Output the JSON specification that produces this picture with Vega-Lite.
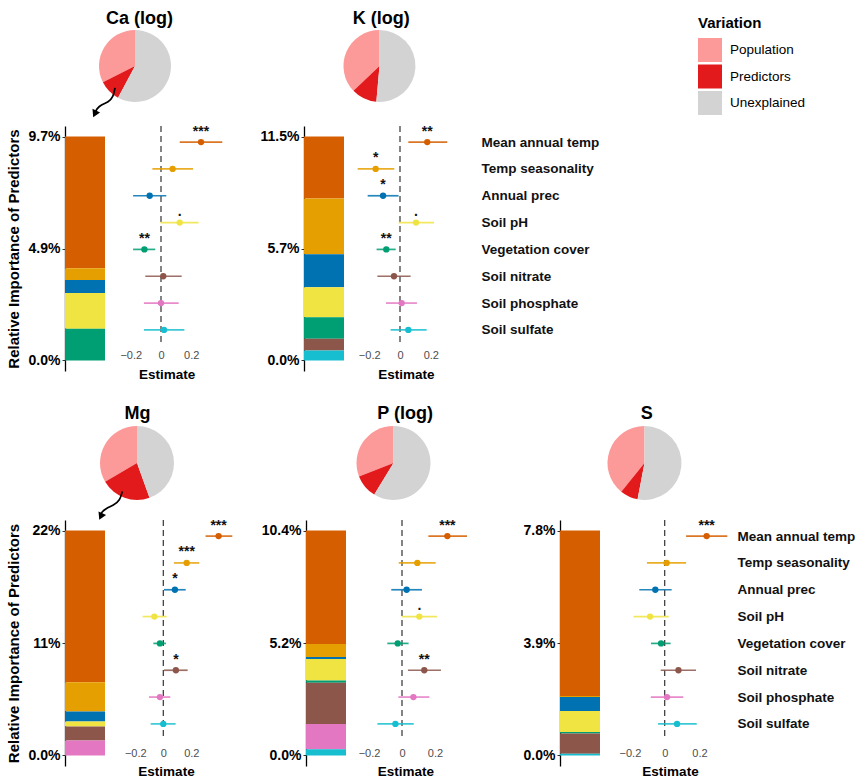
{
  "$schema": "https://vega.github.io/schema/vega-lite/v6.json",
  "padding": {"left": 6, "top": 10, "right": 0, "bottom": 0},
  "config": {
    "view": {"stroke": null},
    "font": "Liberation Sans",
    "axis": {"grid": false}
  },
  "datasets": {
    "pred": [
      {"el":"Ca","predictor":"Mean annual temp","k":1,"imp":5.72,"est":0.265,"lo":0.124,"hi":0.406,"sig":"***"},
      {"el":"Ca","predictor":"Temp seasonality","k":2,"imp":0.51,"est":0.077,"lo":-0.057,"hi":0.212,"sig":""},
      {"el":"Ca","predictor":"Annual prec","k":3,"imp":0.56,"est":-0.075,"lo":-0.185,"hi":0.035,"sig":""},
      {"el":"Ca","predictor":"Soil pH","k":4,"imp":1.55,"est":0.124,"lo":-0.004,"hi":0.249,"sig":"."},
      {"el":"Ca","predictor":"Vegetation cover","k":5,"imp":1.38,"est":-0.110,"lo":-0.185,"hi":-0.038,"sig":"**"},
      {"el":"Ca","predictor":"Soil nitrate","k":6,"imp":0,"est":0.015,"lo":-0.104,"hi":0.137,"sig":""},
      {"el":"Ca","predictor":"Soil phosphate","k":7,"imp":0,"est":0.000,"lo":-0.113,"hi":0.117,"sig":""},
      {"el":"Ca","predictor":"Soil sulfate","k":8,"imp":0,"est":0.020,"lo":-0.113,"hi":0.155,"sig":""},
      {"el":"K","predictor":"Mean annual temp","k":1,"imp":3.17,"est":0.177,"lo":0.054,"hi":0.307,"sig":"**"},
      {"el":"K","predictor":"Temp seasonality","k":2,"imp":2.86,"est":-0.158,"lo":-0.275,"hi":-0.037,"sig":"*"},
      {"el":"K","predictor":"Annual prec","k":3,"imp":1.68,"est":-0.110,"lo":-0.210,"hi":-0.009,"sig":"*"},
      {"el":"K","predictor":"Soil pH","k":4,"imp":1.54,"est":0.104,"lo":-0.009,"hi":0.221,"sig":"."},
      {"el":"K","predictor":"Vegetation cover","k":5,"imp":1.10,"est":-0.089,"lo":-0.152,"hi":-0.028,"sig":"**"},
      {"el":"K","predictor":"Soil nitrate","k":6,"imp":0.60,"est":-0.039,"lo":-0.147,"hi":0.069,"sig":""},
      {"el":"K","predictor":"Soil phosphate","k":7,"imp":0,"est":0.011,"lo":-0.091,"hi":0.110,"sig":""},
      {"el":"K","predictor":"Soil sulfate","k":8,"imp":0.51,"est":0.054,"lo":-0.061,"hi":0.173,"sig":""},
      {"el":"Mg","predictor":"Mean annual temp","k":1,"imp":14.85,"est":0.395,"lo":0.302,"hi":0.493,"sig":"***"},
      {"el":"Mg","predictor":"Temp seasonality","k":2,"imp":2.84,"est":0.167,"lo":0.076,"hi":0.257,"sig":"***"},
      {"el":"Mg","predictor":"Annual prec","k":3,"imp":0.98,"est":0.083,"lo":0.005,"hi":0.160,"sig":"*"},
      {"el":"Mg","predictor":"Soil pH","k":4,"imp":0.49,"est":-0.064,"lo":-0.148,"hi":0.024,"sig":""},
      {"el":"Mg","predictor":"Vegetation cover","k":5,"imp":0,"est":-0.024,"lo":-0.071,"hi":0.019,"sig":""},
      {"el":"Mg","predictor":"Soil nitrate","k":6,"imp":1.37,"est":0.090,"lo":0.005,"hi":0.174,"sig":"*"},
      {"el":"Mg","predictor":"Soil phosphate","k":7,"imp":1.47,"est":-0.024,"lo":-0.102,"hi":0.050,"sig":""},
      {"el":"Mg","predictor":"Soil sulfate","k":8,"imp":0,"est":0.000,"lo":-0.090,"hi":0.088,"sig":""},
      {"el":"P","predictor":"Mean annual temp","k":1,"imp":5.25,"est":0.275,"lo":0.160,"hi":0.394,"sig":"***"},
      {"el":"P","predictor":"Temp seasonality","k":2,"imp":0.60,"est":0.093,"lo":-0.020,"hi":0.204,"sig":""},
      {"el":"P","predictor":"Annual prec","k":3,"imp":0.09,"est":0.028,"lo":-0.065,"hi":0.121,"sig":""},
      {"el":"P","predictor":"Soil pH","k":4,"imp":0.99,"est":0.105,"lo":-0.002,"hi":0.212,"sig":"."},
      {"el":"P","predictor":"Vegetation cover","k":5,"imp":0.11,"est":-0.026,"lo":-0.089,"hi":0.040,"sig":""},
      {"el":"P","predictor":"Soil nitrate","k":6,"imp":1.91,"est":0.135,"lo":0.036,"hi":0.236,"sig":"**"},
      {"el":"P","predictor":"Soil phosphate","k":7,"imp":1.16,"est":0.069,"lo":-0.022,"hi":0.166,"sig":""},
      {"el":"P","predictor":"Soil sulfate","k":8,"imp":0.29,"est":-0.040,"lo":-0.149,"hi":0.071,"sig":""},
      {"el":"S","predictor":"Mean annual temp","k":1,"imp":5.74,"est":0.241,"lo":0.123,"hi":0.360,"sig":"***"},
      {"el":"S","predictor":"Temp seasonality","k":2,"imp":0.03,"est":0.011,"lo":-0.102,"hi":0.123,"sig":""},
      {"el":"S","predictor":"Annual prec","k":3,"imp":0.49,"est":-0.054,"lo":-0.146,"hi":0.040,"sig":""},
      {"el":"S","predictor":"Soil pH","k":4,"imp":0.73,"est":-0.084,"lo":-0.180,"hi":0.023,"sig":""},
      {"el":"S","predictor":"Vegetation cover","k":5,"imp":0.05,"est":-0.021,"lo":-0.079,"hi":0.034,"sig":""},
      {"el":"S","predictor":"Soil nitrate","k":6,"imp":0.70,"est":0.079,"lo":-0.023,"hi":0.180,"sig":""},
      {"el":"S","predictor":"Soil phosphate","k":7,"imp":0,"est":0.013,"lo":-0.080,"hi":0.107,"sig":""},
      {"el":"S","predictor":"Soil sulfate","k":8,"imp":0.06,"est":0.071,"lo":-0.038,"hi":0.184,"sig":""}
    ],
    "pie": [
      {"el":"Ca","part":"Population","pct":32.48},{"el":"Ca","part":"Predictors","pct":9.72},{"el":"Ca","part":"Unexplained","pct":57.8},
      {"el":"K","part":"Population","pct":37.14},{"el":"K","part":"Predictors","pct":11.46},{"el":"K","part":"Unexplained","pct":51.4},
      {"el":"Mg","part":"Population","pct":33.5},{"el":"Mg","part":"Predictors","pct":22.0},{"el":"Mg","part":"Unexplained","pct":44.5},
      {"el":"P","part":"Population","pct":30.9},{"el":"P","part":"Predictors","pct":10.4},{"el":"P","part":"Unexplained","pct":58.7},
      {"el":"S","part":"Population","pct":39.2},{"el":"S","part":"Predictors","pct":7.8},{"el":"S","part":"Unexplained","pct":53.0}
    ],
    "arrow": [
      {"el":"Ca","s":1,"ax":-0.556,"ay":-0.606},{"el":"Ca","s":2,"ax":-0.603,"ay":-0.867},{"el":"Ca","s":3,"ax":-0.742,"ay":-1.006},
      {"el":"Ca","s":4,"ax":-0.925,"ay":-1.069},{"el":"Ca","s":5,"ax":-1.064,"ay":-1.189},{"el":"Ca","s":6,"ax":-1.10,"ay":-1.285},
      {"el":"Mg","s":1,"ax":-0.397,"ay":-0.768},{"el":"Mg","s":2,"ax":-0.459,"ay":-1.01},{"el":"Mg","s":3,"ax":-0.64,"ay":-1.146},
      {"el":"Mg","s":4,"ax":-0.819,"ay":-1.216},{"el":"Mg","s":5,"ax":-0.954,"ay":-1.324},{"el":"Mg","s":6,"ax":-0.975,"ay":-1.40}
    ],
    "head": [
      {"el":"Ca","ax":-1.118,"ay":-1.331},
      {"el":"Mg","ax":-0.979,"ay":-1.445}
    ]
  },
  "spacing": 24,
  "vconcat": [
    {
      "spacing": 6,
      "vconcat": [
        {
          "spacing": 0,
          "bounds": "flush",
          "hconcat": [
            {
              "width": 140, "height": 72,
              "title": {"text": "Ca (log)", "fontSize": 18, "fontWeight": "bold", "color": "#000", "offset": 2, "dx": 4.5, "anchor": "middle", "frame": "group"},
              "layer": [
                {
                  "data": {"name": "pie"}, "transform": [{"filter": "datum.el === 'Ca'"}],
                  "mark": {"type": "arc"},
                  "encoding": {
                    "theta": {"field": "pct", "type": "quantitative", "stack": true},
                    "color": {"field": "part", "type": "nominal",
                      "scale": {"domain": ["Population","Predictors","Unexplained"], "range": ["#FB9A99","#E31A1C","#D3D3D3"]},
                      "legend": {"orient": "none", "legendX": 633, "legendY": -14, "title": "Variation", "titleFontSize": 15, "titleFontWeight": "bold", "titleColor": "#000", "titlePadding": 7, "symbolType": "square", "symbolSize": 576, "symbolStrokeWidth": 0, "symbolOpacity": 1, "labelFontSize": 13.5, "labelFontWeight": "normal", "labelColor": "#000", "labelOffset": 8, "rowPadding": 2.5, "padding": 0}},
                    "order": {"field": "part", "sort": "descending"}
                  }
                },
                {
                  "data": {"name": "arrow"}, "transform": [{"filter": "datum.el === 'Ca'"}],
                  "mark": {"type": "line", "interpolate": "basis", "color": "#000", "strokeWidth": 1.7},
                  "encoding": {
                    "x": {"field": "ax", "type": "quantitative", "scale": {"domain": [-1.944, 1.944], "nice": false, "zero": false}, "axis": null},
                    "y": {"field": "ay", "type": "quantitative", "scale": {"domain": [-1, 1], "nice": false, "zero": false}, "axis": null},
                    "order": {"field": "s"}
                  }
                },
                {
                  "data": {"name": "head"}, "transform": [{"filter": "datum.el === 'Ca'"}],
                  "mark": {"type": "point", "shape": "triangle-down", "filled": true, "color": "#000", "size": 70, "angle": 25, "opacity": 1},
                  "encoding": {
                    "x": {"field": "ax", "type": "quantitative", "axis": null},
                    "y": {"field": "ay", "type": "quantitative", "axis": null}
                  }
                }
              ]
            },
            {
              "width": 349, "height": 72,
              "title": {"text": "K (log)", "fontSize": 18, "fontWeight": "bold", "color": "#000", "offset": 2, "dx": 1.7, "anchor": "middle", "frame": "group"},
              "data": {"name": "pie"}, "transform": [{"filter": "datum.el === 'K'"}],
              "mark": {"type": "arc"},
              "encoding": {
                "theta": {"field": "pct", "type": "quantitative", "stack": true},
                "color": {"field": "part", "type": "nominal"},
                "order": {"field": "part", "sort": "descending"}
              }
            }
          ]
        },
        {
          "spacing": 10,
          "bounds": "flush",
          "hconcat": [
            {
              "width": 40, "height": 245,
              "data": {"name": "pred"}, "transform": [{"filter": "datum.el === 'Ca'"}],
              "mark": {"type": "bar"},
              "encoding": {
                "x": {"field": "el", "type": "nominal", "scale": {"paddingInner": 0, "paddingOuter": 0}, "axis": null},
                "y": {"field": "imp", "type": "quantitative", "stack": "zero",
                  "scale": {"domain": [-0.457, 10.177], "nice": false, "zero": false},
                  "axis": {"values": [0, 4.86, 9.72], "labelExpr": "format(datum.value, '.1f') + '%'", "title": "Relative Importance of Predictors", "titleFontSize": 15, "titleFontWeight": "bold", "titleColor": "#000", "titlePadding": 6.5, "labelFontSize": 14, "labelFontWeight": "bold", "labelColor": "#000", "labelPadding": 2, "tickSize": 3, "tickColor": "#333", "domainColor": "#000", "domainWidth": 1.3, "labelFlush": false, "labelOverlap": false}},
                "fill": {"field": "predictor", "type": "nominal",
                  "scale": {"domain": ["Mean annual temp","Temp seasonality","Annual prec","Soil pH","Vegetation cover","Soil nitrate","Soil phosphate","Soil sulfate"], "range": ["#D55E00","#E69F00","#0072B2","#F0E442","#009E73","#8C564B","#E377C2","#17BECF"]},
                  "legend": null},
                "order": {"field": "k", "sort": "descending"}
              }
            },
            {
              "width": 179, "height": 220,
              "encoding": {
                "x": {"field": "est", "type": "quantitative", "scale": {"domain": [-0.3046, 0.8808], "nice": false, "zero": false},
                  "axis": {"values": [-0.2, 0, 0.2], "format": "~g", "domain": false, "ticks": false, "tickSize": 0, "labelFontSize": 11, "labelColor": "#4d4d4d", "labelPadding": 3, "labelFlush": false, "title": "Estimate", "titleFontSize": 13.5, "titleFontWeight": "bold", "titleColor": "#000", "titlePadding": 7, "titleX": 51.7}}
              },
              "layer": [
                {
                  "data": {"name": "pred"}, "transform": [{"filter": "datum.el === 'Ca' && datum.k === 1"}],
                  "mark": {"type": "rule", "strokeDash": [6, 4], "color": "#333333", "strokeWidth": 1.2},
                  "encoding": {"x": {"datum": 0, "type": "quantitative"}}
                },
                {
                  "data": {"name": "pred"}, "transform": [{"filter": "datum.el === 'Ca'"}],
                  "mark": {"type": "rule", "strokeWidth": 1.7, "strokeOpacity": 0.85},
                  "encoding": {
                    "x": {"field": "lo", "type": "quantitative"}, "x2": {"field": "hi"},
                    "y": {"field": "predictor", "type": "nominal", "sort": ["Mean annual temp","Temp seasonality","Annual prec","Soil pH","Vegetation cover","Soil nitrate","Soil phosphate","Soil sulfate"], "scale": {"type": "point", "padding": 0.6}, "axis": null},
                    "stroke": {"field": "predictor", "type": "nominal", "scale": {"domain": ["Mean annual temp","Temp seasonality","Annual prec","Soil pH","Vegetation cover","Soil nitrate","Soil phosphate","Soil sulfate"], "range": ["#D55E00","#E69F00","#0072B2","#F0E442","#009E73","#8C564B","#E377C2","#17BECF"]}, "legend": null}
                  }
                },
                {
                  "data": {"name": "pred"}, "transform": [{"filter": "datum.el === 'Ca'"}],
                  "mark": {"type": "point", "filled": true, "size": 40, "opacity": 1},
                  "encoding": {
                    "y": {"field": "predictor", "type": "nominal", "sort": ["Mean annual temp","Temp seasonality","Annual prec","Soil pH","Vegetation cover","Soil nitrate","Soil phosphate","Soil sulfate"], "scale": {"type": "point", "padding": 0.6}, "axis": null},
                    "fill": {"field": "predictor", "type": "nominal", "legend": null}
                  }
                },
                {
                  "data": {"name": "pred"}, "transform": [{"filter": "datum.el === 'Ca'"}],
                  "mark": {"type": "text", "dy": -6.5, "baseline": "alphabetic", "fontSize": 14, "fontWeight": "bold", "color": "#111111"},
                  "encoding": {
                    "y": {"field": "predictor", "type": "nominal", "sort": ["Mean annual temp","Temp seasonality","Annual prec","Soil pH","Vegetation cover","Soil nitrate","Soil phosphate","Soil sulfate"], "scale": {"type": "point", "padding": 0.6}, "axis": null},
                    "text": {"field": "sig"}
                  }
                }
              ]
            },
            {
              "width": 40, "height": 245,
              "data": {"name": "pred"}, "transform": [{"filter": "datum.el === 'K'"}],
              "mark": {"type": "bar"},
              "encoding": {
                "x": {"field": "el", "type": "nominal", "scale": {"paddingInner": 0, "paddingOuter": 0}, "axis": null},
                "y": {"field": "imp", "type": "quantitative", "stack": "zero",
                  "scale": {"domain": [-0.539, 11.999], "nice": false, "zero": false},
                  "axis": {"values": [0, 5.73, 11.46], "labelExpr": "format(datum.value, '.1f') + '%'", "title": null, "labelFontSize": 14, "labelFontWeight": "bold", "labelColor": "#000", "labelPadding": 2, "tickSize": 3, "tickColor": "#333", "domainColor": "#000", "domainWidth": 1.3, "labelFlush": false, "labelOverlap": false}},
                "fill": {"field": "predictor", "type": "nominal", "legend": null},
                "order": {"field": "k", "sort": "descending"}
              }
            },
            {
              "width": 98, "height": 220,
              "encoding": {
                "x": {"field": "est", "type": "quantitative", "scale": {"domain": [-0.2987, 0.3377], "nice": false, "zero": false},
                  "axis": {"values": [-0.2, 0, 0.2], "format": "~g", "domain": false, "ticks": false, "tickSize": 0, "labelFontSize": 11, "labelColor": "#4d4d4d", "labelPadding": 3, "labelFlush": false, "title": "Estimate", "titleFontSize": 13.5, "titleFontWeight": "bold", "titleColor": "#000", "titlePadding": 7, "titleX": 51.8}}
              },
              "layer": [
                {
                  "data": {"name": "pred"}, "transform": [{"filter": "datum.el === 'K' && datum.k === 1"}],
                  "mark": {"type": "rule", "strokeDash": [6, 4], "color": "#333333", "strokeWidth": 1.2},
                  "encoding": {"x": {"datum": 0, "type": "quantitative"}}
                },
                {
                  "data": {"name": "pred"}, "transform": [{"filter": "datum.el === 'K'"}],
                  "mark": {"type": "rule", "strokeWidth": 1.7, "strokeOpacity": 0.85},
                  "encoding": {
                    "x": {"field": "lo", "type": "quantitative"}, "x2": {"field": "hi"},
                    "y": {"field": "predictor", "type": "nominal", "sort": ["Mean annual temp","Temp seasonality","Annual prec","Soil pH","Vegetation cover","Soil nitrate","Soil phosphate","Soil sulfate"], "scale": {"type": "point", "padding": 0.6},
                      "axis": {"orient": "right", "domain": false, "ticks": false, "tickSize": 0, "labelPadding": 29, "labelFontSize": 13.5, "labelFontWeight": "bold", "labelColor": "#111", "labelLimit": 0, "title": null}},
                    "stroke": {"field": "predictor", "type": "nominal", "legend": null}
                  }
                },
                {
                  "data": {"name": "pred"}, "transform": [{"filter": "datum.el === 'K'"}],
                  "mark": {"type": "point", "filled": true, "size": 40, "opacity": 1},
                  "encoding": {
                    "y": {"field": "predictor", "type": "nominal", "sort": ["Mean annual temp","Temp seasonality","Annual prec","Soil pH","Vegetation cover","Soil nitrate","Soil phosphate","Soil sulfate"], "scale": {"type": "point", "padding": 0.6},
                      "axis": {"orient": "right", "domain": false, "ticks": false, "tickSize": 0, "labelPadding": 29, "labelFontSize": 13.5, "labelFontWeight": "bold", "labelColor": "#111", "labelLimit": 0, "title": null}},
                    "fill": {"field": "predictor", "type": "nominal", "legend": null}
                  }
                },
                {
                  "data": {"name": "pred"}, "transform": [{"filter": "datum.el === 'K'"}],
                  "mark": {"type": "text", "dy": -6.5, "baseline": "alphabetic", "fontSize": 14, "fontWeight": "bold", "color": "#111111"},
                  "encoding": {
                    "y": {"field": "predictor", "type": "nominal", "sort": ["Mean annual temp","Temp seasonality","Annual prec","Soil pH","Vegetation cover","Soil nitrate","Soil phosphate","Soil sulfate"], "scale": {"type": "point", "padding": 0.6},
                      "axis": {"orient": "right", "domain": false, "ticks": false, "tickSize": 0, "labelPadding": 29, "labelFontSize": 13.5, "labelFontWeight": "bold", "labelColor": "#111", "labelLimit": 0, "title": null}},
                    "text": {"field": "sig"}
                  }
                }
              ]
            }
          ]
        }
      ]
    },
    {
      "spacing": -10.5,
      "vconcat": [
        {
          "spacing": 0,
          "bounds": "flush",
          "hconcat": [
            {
              "width": 144, "height": 74,
              "title": {"text": "Mg", "fontSize": 18, "fontWeight": "bold", "color": "#000", "offset": 3, "dx": 0.5, "anchor": "middle", "frame": "group"},
              "layer": [
                {
                  "data": {"name": "pie"}, "transform": [{"filter": "datum.el === 'Mg'"}],
                  "mark": {"type": "arc"},
                  "encoding": {
                    "theta": {"field": "pct", "type": "quantitative", "stack": true},
                    "color": {"field": "part", "type": "nominal"},
                    "order": {"field": "part", "sort": "descending"}
                  }
                },
                {
                  "data": {"name": "arrow"}, "transform": [{"filter": "datum.el === 'Mg'"}],
                  "mark": {"type": "line", "interpolate": "basis", "color": "#000", "strokeWidth": 1.7},
                  "encoding": {
                    "x": {"field": "ax", "type": "quantitative", "scale": {"domain": [-1.946, 1.946], "nice": false, "zero": false}, "axis": null},
                    "y": {"field": "ay", "type": "quantitative", "scale": {"domain": [-1, 1], "nice": false, "zero": false}, "axis": null},
                    "order": {"field": "s"}
                  }
                },
                {
                  "data": {"name": "head"}, "transform": [{"filter": "datum.el === 'Mg'"}],
                  "mark": {"type": "point", "shape": "triangle-down", "filled": true, "color": "#000", "size": 70, "angle": 25, "opacity": 1},
                  "encoding": {
                    "x": {"field": "ax", "type": "quantitative", "axis": null},
                    "y": {"field": "ay", "type": "quantitative", "axis": null}
                  }
                }
              ]
            },
            {
              "width": 369, "height": 74,
              "title": {"text": "P (log)", "fontSize": 18, "fontWeight": "bold", "color": "#000", "offset": 3, "dx": 11.7, "anchor": "middle", "frame": "group"},
              "data": {"name": "pie"}, "transform": [{"filter": "datum.el === 'P'"}],
              "mark": {"type": "arc"},
              "encoding": {
                "theta": {"field": "pct", "type": "quantitative", "stack": true},
                "color": {"field": "part", "type": "nominal"},
                "order": {"field": "part", "sort": "descending"}
              }
            },
            {
              "width": 133, "height": 74,
              "title": {"text": "S", "fontSize": 18, "fontWeight": "bold", "color": "#000", "offset": 3, "dx": 2.2, "anchor": "middle", "frame": "group"},
              "data": {"name": "pie"}, "transform": [{"filter": "datum.el === 'S'"}],
              "mark": {"type": "arc"},
              "encoding": {
                "theta": {"field": "pct", "type": "quantitative", "stack": true},
                "color": {"field": "part", "type": "nominal"},
                "order": {"field": "part", "sort": "descending"}
              }
            }
          ]
        },
        {
          "spacing": 10,
          "bounds": "flush",
          "hconcat": [
            {
              "width": 40, "height": 246,
              "data": {"name": "pred"}, "transform": [{"filter": "datum.el === 'Mg'"}],
              "mark": {"type": "bar"},
              "encoding": {
                "x": {"field": "el", "type": "nominal", "scale": {"paddingInner": 0, "paddingOuter": 0}, "axis": null},
                "y": {"field": "imp", "type": "quantitative", "stack": "zero",
                  "scale": {"domain": [-1.034, 23.034], "nice": false, "zero": false},
                  "axis": {"values": [0, 11, 22], "labelExpr": "datum.value === 0 ? '0.0%' : format(datum.value, '.2r') + '%'", "title": "Relative Importance of Predictors", "titleFontSize": 15, "titleFontWeight": "bold", "titleColor": "#000", "titlePadding": 7, "labelFontSize": 14, "labelFontWeight": "bold", "labelColor": "#000", "labelPadding": 2, "tickSize": 3, "tickColor": "#333", "domainColor": "#000", "domainWidth": 1.3, "labelFlush": false, "labelOverlap": false}},
                "fill": {"field": "predictor", "type": "nominal", "legend": null},
                "order": {"field": "k", "sort": "descending"}
              }
            },
            {
              "width": 181, "height": 220,
              "encoding": {
                "x": {"field": "est", "type": "quantitative", "scale": {"domain": [-0.345, 0.948], "nice": false, "zero": false},
                  "axis": {"values": [-0.2, 0, 0.2], "format": "~g", "domain": false, "ticks": false, "tickSize": 0, "labelFontSize": 11, "labelColor": "#4d4d4d", "labelPadding": 7.5, "labelFlush": false, "title": "Estimate", "titleFontSize": 13.5, "titleFontWeight": "bold", "titleColor": "#000", "titlePadding": 6, "titleX": 51}}
              },
              "layer": [
                {
                  "data": {"name": "pred"}, "transform": [{"filter": "datum.el === 'Mg' && datum.k === 1"}],
                  "mark": {"type": "rule", "strokeDash": [6, 4], "color": "#333333", "strokeWidth": 1.2},
                  "encoding": {"x": {"datum": 0, "type": "quantitative"}}
                },
                {
                  "data": {"name": "pred"}, "transform": [{"filter": "datum.el === 'Mg'"}],
                  "mark": {"type": "rule", "strokeWidth": 1.7, "strokeOpacity": 0.85},
                  "encoding": {
                    "x": {"field": "lo", "type": "quantitative"}, "x2": {"field": "hi"},
                    "y": {"field": "predictor", "type": "nominal", "sort": ["Mean annual temp","Temp seasonality","Annual prec","Soil pH","Vegetation cover","Soil nitrate","Soil phosphate","Soil sulfate"], "scale": {"type": "point", "padding": 0.6}, "axis": null},
                    "stroke": {"field": "predictor", "type": "nominal", "legend": null}
                  }
                },
                {
                  "data": {"name": "pred"}, "transform": [{"filter": "datum.el === 'Mg'"}],
                  "mark": {"type": "point", "filled": true, "size": 40, "opacity": 1},
                  "encoding": {
                    "y": {"field": "predictor", "type": "nominal", "sort": ["Mean annual temp","Temp seasonality","Annual prec","Soil pH","Vegetation cover","Soil nitrate","Soil phosphate","Soil sulfate"], "scale": {"type": "point", "padding": 0.6}, "axis": null},
                    "fill": {"field": "predictor", "type": "nominal", "legend": null}
                  }
                },
                {
                  "data": {"name": "pred"}, "transform": [{"filter": "datum.el === 'Mg'"}],
                  "mark": {"type": "text", "dy": -6.5, "baseline": "alphabetic", "fontSize": 14, "fontWeight": "bold", "color": "#111111"},
                  "encoding": {
                    "y": {"field": "predictor", "type": "nominal", "sort": ["Mean annual temp","Temp seasonality","Annual prec","Soil pH","Vegetation cover","Soil nitrate","Soil phosphate","Soil sulfate"], "scale": {"type": "point", "padding": 0.6}, "axis": null},
                    "text": {"field": "sig"}
                  }
                }
              ]
            },
            {
              "width": 40, "height": 246,
              "data": {"name": "pred"}, "transform": [{"filter": "datum.el === 'P'"}],
              "mark": {"type": "bar"},
              "encoding": {
                "x": {"field": "el", "type": "nominal", "scale": {"paddingInner": 0, "paddingOuter": 0}, "axis": null},
                "y": {"field": "imp", "type": "quantitative", "stack": "zero",
                  "scale": {"domain": [-0.489, 10.889], "nice": false, "zero": false},
                  "axis": {"values": [0, 5.2, 10.4], "labelExpr": "format(datum.value, '.1f') + '%'", "title": null, "labelFontSize": 14, "labelFontWeight": "bold", "labelColor": "#000", "labelPadding": 2, "tickSize": 3, "tickColor": "#333", "domainColor": "#000", "domainWidth": 1.3, "labelFlush": false, "labelOverlap": false}},
                "fill": {"field": "predictor", "type": "nominal", "legend": null},
                "order": {"field": "k", "sort": "descending"}
              }
            },
            {
              "width": 194, "height": 220,
              "encoding": {
                "x": {"field": "est", "type": "quantitative", "scale": {"domain": [-0.2788, 0.8970], "nice": false, "zero": false},
                  "axis": {"values": [-0.2, 0, 0.2], "format": "~g", "domain": false, "ticks": false, "tickSize": 0, "labelFontSize": 11, "labelColor": "#4d4d4d", "labelPadding": 7.5, "labelFlush": false, "title": "Estimate", "titleFontSize": 13.5, "titleFontWeight": "bold", "titleColor": "#000", "titlePadding": 6, "titleX": 49.3}}
              },
              "layer": [
                {
                  "data": {"name": "pred"}, "transform": [{"filter": "datum.el === 'P' && datum.k === 1"}],
                  "mark": {"type": "rule", "strokeDash": [6, 4], "color": "#333333", "strokeWidth": 1.2},
                  "encoding": {"x": {"datum": 0, "type": "quantitative"}}
                },
                {
                  "data": {"name": "pred"}, "transform": [{"filter": "datum.el === 'P'"}],
                  "mark": {"type": "rule", "strokeWidth": 1.7, "strokeOpacity": 0.85},
                  "encoding": {
                    "x": {"field": "lo", "type": "quantitative"}, "x2": {"field": "hi"},
                    "y": {"field": "predictor", "type": "nominal", "sort": ["Mean annual temp","Temp seasonality","Annual prec","Soil pH","Vegetation cover","Soil nitrate","Soil phosphate","Soil sulfate"], "scale": {"type": "point", "padding": 0.6}, "axis": null},
                    "stroke": {"field": "predictor", "type": "nominal", "legend": null}
                  }
                },
                {
                  "data": {"name": "pred"}, "transform": [{"filter": "datum.el === 'P'"}],
                  "mark": {"type": "point", "filled": true, "size": 40, "opacity": 1},
                  "encoding": {
                    "y": {"field": "predictor", "type": "nominal", "sort": ["Mean annual temp","Temp seasonality","Annual prec","Soil pH","Vegetation cover","Soil nitrate","Soil phosphate","Soil sulfate"], "scale": {"type": "point", "padding": 0.6}, "axis": null},
                    "fill": {"field": "predictor", "type": "nominal", "legend": null}
                  }
                },
                {
                  "data": {"name": "pred"}, "transform": [{"filter": "datum.el === 'P'"}],
                  "mark": {"type": "text", "dy": -6.5, "baseline": "alphabetic", "fontSize": 14, "fontWeight": "bold", "color": "#111111"},
                  "encoding": {
                    "y": {"field": "predictor", "type": "nominal", "sort": ["Mean annual temp","Temp seasonality","Annual prec","Soil pH","Vegetation cover","Soil nitrate","Soil phosphate","Soil sulfate"], "scale": {"type": "point", "padding": 0.6}, "axis": null},
                    "text": {"field": "sig"}
                  }
                }
              ]
            },
            {
              "width": 40, "height": 246,
              "data": {"name": "pred"}, "transform": [{"filter": "datum.el === 'S'"}],
              "mark": {"type": "bar"},
              "encoding": {
                "x": {"field": "el", "type": "nominal", "scale": {"paddingInner": 0, "paddingOuter": 0}, "axis": null},
                "y": {"field": "imp", "type": "quantitative", "stack": "zero",
                  "scale": {"domain": [-0.367, 8.167], "nice": false, "zero": false},
                  "axis": {"values": [0, 3.9, 7.8], "labelExpr": "format(datum.value, '.1f') + '%'", "title": null, "labelFontSize": 14, "labelFontWeight": "bold", "labelColor": "#000", "labelPadding": 2, "tickSize": 3, "tickColor": "#333", "domainColor": "#000", "domainWidth": 1.3, "labelFlush": false, "labelOverlap": false}},
                "fill": {"field": "predictor", "type": "nominal", "legend": null},
                "order": {"field": "k", "sort": "descending"}
              }
            },
            {
              "width": 122, "height": 220,
              "encoding": {
                "x": {"field": "est", "type": "quantitative", "scale": {"domain": [-0.3144, 0.3868], "nice": false, "zero": false},
                  "axis": {"values": [-0.2, 0, 0.2], "format": "~g", "domain": false, "ticks": false, "tickSize": 0, "labelFontSize": 11, "labelColor": "#4d4d4d", "labelPadding": 7.5, "labelFlush": false, "title": "Estimate", "titleFontSize": 13.5, "titleFontWeight": "bold", "titleColor": "#000", "titlePadding": 6, "titleX": 60}}
              },
              "layer": [
                {
                  "data": {"name": "pred"}, "transform": [{"filter": "datum.el === 'S' && datum.k === 1"}],
                  "mark": {"type": "rule", "strokeDash": [6, 4], "color": "#333333", "strokeWidth": 1.2},
                  "encoding": {"x": {"datum": 0, "type": "quantitative"}}
                },
                {
                  "data": {"name": "pred"}, "transform": [{"filter": "datum.el === 'S'"}],
                  "mark": {"type": "rule", "strokeWidth": 1.7, "strokeOpacity": 0.85},
                  "encoding": {
                    "x": {"field": "lo", "type": "quantitative"}, "x2": {"field": "hi"},
                    "y": {"field": "predictor", "type": "nominal", "sort": ["Mean annual temp","Temp seasonality","Annual prec","Soil pH","Vegetation cover","Soil nitrate","Soil phosphate","Soil sulfate"], "scale": {"type": "point", "padding": 0.6},
                      "axis": {"orient": "right", "domain": false, "ticks": false, "tickSize": 0, "labelPadding": 5, "labelFontSize": 13.5, "labelFontWeight": "bold", "labelColor": "#111", "labelLimit": 0, "title": null}},
                    "stroke": {"field": "predictor", "type": "nominal", "legend": null}
                  }
                },
                {
                  "data": {"name": "pred"}, "transform": [{"filter": "datum.el === 'S'"}],
                  "mark": {"type": "point", "filled": true, "size": 40, "opacity": 1},
                  "encoding": {
                    "y": {"field": "predictor", "type": "nominal", "sort": ["Mean annual temp","Temp seasonality","Annual prec","Soil pH","Vegetation cover","Soil nitrate","Soil phosphate","Soil sulfate"], "scale": {"type": "point", "padding": 0.6},
                      "axis": {"orient": "right", "domain": false, "ticks": false, "tickSize": 0, "labelPadding": 5, "labelFontSize": 13.5, "labelFontWeight": "bold", "labelColor": "#111", "labelLimit": 0, "title": null}},
                    "fill": {"field": "predictor", "type": "nominal", "legend": null}
                  }
                },
                {
                  "data": {"name": "pred"}, "transform": [{"filter": "datum.el === 'S'"}],
                  "mark": {"type": "text", "dy": -6.5, "baseline": "alphabetic", "fontSize": 14, "fontWeight": "bold", "color": "#111111"},
                  "encoding": {
                    "y": {"field": "predictor", "type": "nominal", "sort": ["Mean annual temp","Temp seasonality","Annual prec","Soil pH","Vegetation cover","Soil nitrate","Soil phosphate","Soil sulfate"], "scale": {"type": "point", "padding": 0.6},
                      "axis": {"orient": "right", "domain": false, "ticks": false, "tickSize": 0, "labelPadding": 5, "labelFontSize": 13.5, "labelFontWeight": "bold", "labelColor": "#111", "labelLimit": 0, "title": null}},
                    "text": {"field": "sig"}
                  }
                }
              ]
            }
          ]
        }
      ]
    }
  ]
}
